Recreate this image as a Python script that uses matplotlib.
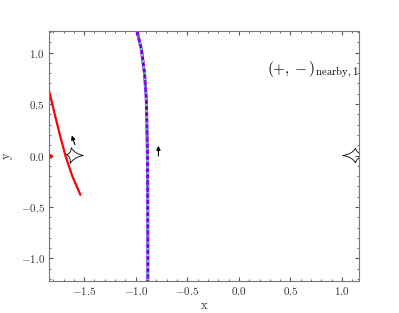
import matplotlib
matplotlib.use("Agg")
import matplotlib.pyplot as plt
import numpy as np
from matplotlib.ticker import AutoMinorLocator, FuncFormatter

plt.rcParams['mathtext.fontset'] = 'cm'
plt.rcParams['font.family'] = 'serif'
plt.rcParams['font.serif'] = ['DejaVu Serif']

# red image track
red_x = [-1.835, -1.785, -1.735, -1.682, -1.615, -1.537]
red_y = [0.61, 0.40, 0.20, 0.0, -0.20, -0.38]

# the long track near x=-0.9
trk_y = [-1.22, -0.8, -0.4, 0.0, 0.3, 0.54, 0.8, 1.03, 1.22]
trk_x = [-0.883, -0.883, -0.884, -0.886, -0.892, -0.897, -0.915, -0.945, -0.99]

# caustics (cusp points: left, top, right, bottom)
cau1_x = [-1.67, -1.625, -1.51, -1.635]
cau1_y = [0.01, 0.075, 0.0, -0.075]
cau2_x = [1.01, 1.13, 1.22, 1.13]
cau2_y = [0.0, 0.07, 0.0, -0.07]

# source position
src_x, src_y = -1.83, 0.0

# arrows: tail x, tail y, dx, dy
arr_x = [-1.59, -0.78]
arr_y = [0.105, -0.005]
arr_dx = [-0.03, 0.0]
arr_dy = [0.09, 0.1]


def caustic(cx, cy, n=60):
    # concave segments joining the cusps
    xs, ys = [], []
    ox, oy = np.mean(cx), np.mean(cy)
    for i in range(4):
        x0, y0 = cx[i], cy[i]
        x1, y1 = cx[(i + 1) % 4], cy[(i + 1) % 4]
        t = np.linspace(0, 1, n)
        mx, my = (x0 + x1) / 2, (y0 + y1) / 2
        # pull midpoint toward the centre
        qx, qy = mx + 0.55 * (ox - mx), my + 0.55 * (oy - my)
        xs.extend((1 - t) ** 2 * x0 + 2 * t * (1 - t) * qx + t ** 2 * x1)
        ys.extend((1 - t) ** 2 * y0 + 2 * t * (1 - t) * qy + t ** 2 * y1)
    return xs, ys


fig = plt.figure(figsize=(3.99, 3.13), dpi=100)
ax = fig.add_axes([0.123, 0.102, 0.777, 0.799])

ax.plot(red_x, red_y, color='red', lw=1.6)
ax.plot(src_x, src_y, '*', color='red', ms=3, mec='red')

ax.plot(trk_x, trk_y, color='#8a00ff', lw=2.2)
ax.plot(trk_x, trk_y, color='mediumaquamarine', lw=1.8, ls=(0, (1, 1.5)))
ax.plot(trk_x, trk_y, color='black', lw=0.8, ls=(0, (1, 4)))

for cx, cy in [(cau1_x, cau1_y), (cau2_x, cau2_y)]:
    xs, ys = caustic(cx, cy)
    ax.plot(xs, ys, color='black', lw=0.6)

for x, y, dx, dy in zip(arr_x, arr_y, arr_dx, arr_dy):
    ax.annotate('', xy=(x + dx, y + dy), xytext=(x, y),
                arrowprops=dict(arrowstyle='-|>', color='black', lw=0.8,
                                mutation_scale=6, shrinkA=0, shrinkB=0))

ax.text(0.72, 0.83, r'$(+,-)_{\rm nearby,1}$', fontsize=11, ha='center', va='center')

ax.set_xlim(-1.84, 1.165)
ax.set_ylim(-1.22, 1.21)
ax.set_xticks([-1.5, -1.0, -0.5, 0.0, 0.5, 1.0])
ax.set_yticks([-1.0, -0.5, 0.0, 0.5, 1.0])
fmt = FuncFormatter(lambda v, p: r'$%.1f$' % v)
ax.xaxis.set_major_formatter(fmt)
ax.yaxis.set_major_formatter(fmt)
ax.xaxis.set_minor_locator(AutoMinorLocator(5))
ax.yaxis.set_minor_locator(AutoMinorLocator(5))
ax.tick_params(which='both', direction='in', colors='#555555', labelcolor='#333333',
               labelsize=8, top=True, right=True, pad=3)
ax.tick_params(which='major', length=3)
ax.tick_params(which='minor', length=1.5)
for s in ax.spines.values():
    s.set_color('#777777')
ax.set_xlabel(r'$\mathrm{x}$', fontsize=9, color='#333333', labelpad=1)
ax.set_ylabel(r'$\mathrm{y}$', fontsize=9, color='#333333', labelpad=4)

fig.savefig('out.png', dpi=100)
